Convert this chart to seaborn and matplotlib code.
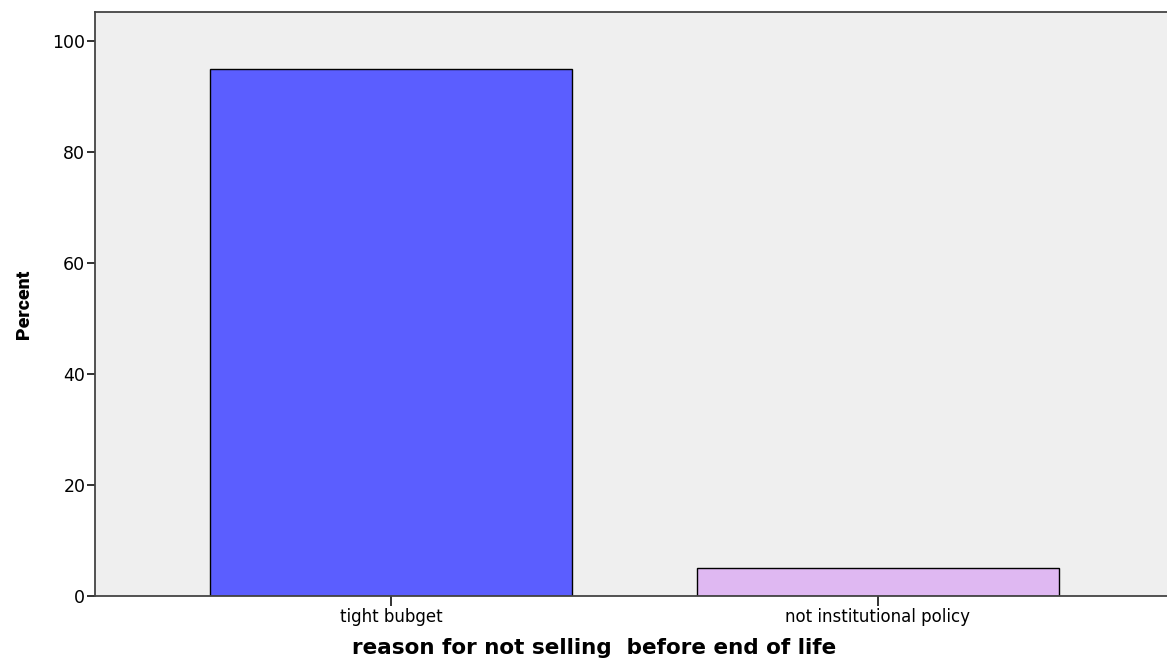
import matplotlib
matplotlib.use("Agg")
import matplotlib.pyplot as plt
import seaborn as sns
import pandas as pd

categories = ["tight bubget", "not institutional policy"]
percent = [95.0, 5.0]
colors = ["#5b5eff", "#dfb8f2"]

sns.set_theme(style="white")
plt.rcParams["font.family"] = ["DejaVu Sans"]
plt.rcParams["text.color"] = "black"
plt.rcParams["axes.labelcolor"] = "black"
plt.rcParams["xtick.color"] = "black"
plt.rcParams["ytick.color"] = "black"

df = pd.DataFrame({"reason": categories, "Percent": percent})

fig = plt.figure(figsize=(11.67, 6.62), dpi=100)
ax = fig.add_axes([95/1167, 1-596/662, (1174-95)/1167, (596-12)/662])
ax.set_facecolor("#efefef")

sns.barplot(data=df, x="reason", y="Percent", hue="reason", palette=colors,
            width=0.745, edgecolor="black", linewidth=1.0, saturation=1,
            legend=False, ax=ax)

ax.set_xlim(-0.608, 1.608)
ax.set_ylim(0, 105.2)
ax.set_yticks([0, 20, 40, 60, 80, 100])
for s in ["left", "top", "bottom"]:
    ax.spines[s].set_color("#444444")
    ax.spines[s].set_linewidth(1.3)
ax.spines["right"].set_visible(False)
ax.tick_params(axis="y", direction="out", length=6, width=1.3, color="#222222",
               labelsize=12.5, pad=1, left=True)
ax.tick_params(axis="x", direction="out", length=7, width=1.3, color="#222222",
               labelsize=12, pad=2, bottom=True)
ax.set_xlabel("reason for not selling  before end of life", fontsize=15.5,
              fontweight="bold")
ax.xaxis.set_label_coords((594-95)/1079, -0.072)
ax.set_ylabel("Percent", fontsize=14, fontweight="heavy",
              family=["Roboto", "DejaVu Sans"])
ax.yaxis.set_label_coords(-(95-33)/1079, 0.5)

fig.savefig("out.png", dpi=100)
